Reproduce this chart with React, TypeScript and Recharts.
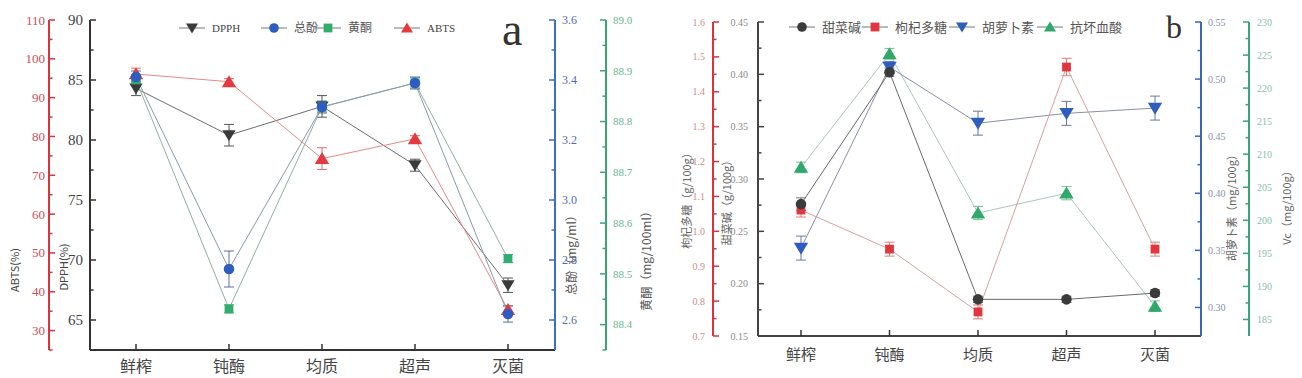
import React from 'react';
import { LineChart, Line, XAxis, YAxis, ErrorBar } from 'recharts';

const categories = ['鲜榨', '钝酶', '均质', '超声', '灭菌'];

// panel a
const seriesA = ['DPPH', '总酚', '黄酮', 'ABTS'];
const dpph = [84.3, 80.4, 82.8, 77.9, 67.9];
const dpphErr = [0.6, 0.9, 0.9, 0.5, 0.6];
const phenol = [3.41, 2.77, 3.31, 3.39, 2.62];
const phenolErr = [0.02, 0.06, 0.02, 0.02, 0.027];
const flavone = [88.882, 88.431, 88.829, 88.876, 88.53];
const flavoneErr = [0.01, 0.008, 0.01, 0.01, 0.008];
const abts = [96.1, 94.1, 74.3, 79.4, 35.4];
const abtsErr = [1.5, 0.8, 2.8, 0.8, 1.0];

const abtsTicks = [25, 30, 35, 40, 45, 50, 55, 60, 65, 70, 75, 80, 85, 90, 95, 100, 105, 110];
const abtsLabels = [30, 40, 50, 60, 70, 80, 90, 100, 110];
const dpphTicks = [62.5, 65, 67.5, 70, 72.5, 75, 77.5, 80, 82.5, 85, 87.5, 90];
const dpphLabels = [65, 70, 75, 80, 85, 90];
const phenolTicks = [2.6, 2.7, 2.8, 2.9, 3.0, 3.1, 3.2, 3.3, 3.4, 3.5, 3.6];
const phenolLabels = [2.6, 2.8, 3.0, 3.2, 3.4, 3.6];
const flavoneTicks = [88.35, 88.4, 88.45, 88.5, 88.55, 88.6, 88.65, 88.7, 88.75, 88.8, 88.85, 88.9, 88.95, 89.0];
const flavoneLabels = [88.4, 88.5, 88.6, 88.7, 88.8, 88.9, 89.0];

// panel b
const seriesB = ['甜菜碱', '枸杞多糖', '胡萝卜素', '抗坏血酸'];
const betaine = [0.276, 0.402, 0.185, 0.185, 0.191];
const betaineErr = [0.006, 0.004, 0.003, 0.003, 0.003];
const lycium = [1.061, 0.949, 0.769, 1.471, 0.949];
const lyciumErr = [0.02, 0.02, 0.02, 0.025, 0.02];
const carotene = [0.352, 0.5105, 0.4614, 0.47, 0.4746];
const caroteneErr = [0.0105, 0.005, 0.0105, 0.0105, 0.0105];
const vc = [208.0, 225.2, 201.1, 204.1, 187.0];
const vcErr = [0.8, 0.8, 1.0, 1.0, 0.8];

const betaineTicks = [0.15, 0.175, 0.2, 0.225, 0.25, 0.275, 0.3, 0.325, 0.35, 0.375, 0.4, 0.425, 0.45];
const betaineLabels = [0.15, 0.2, 0.25, 0.3, 0.35, 0.4, 0.45];
const lyciumTicks = [0.7, 0.75, 0.8, 0.85, 0.9, 0.95, 1.0, 1.05, 1.1, 1.15, 1.2, 1.25, 1.3, 1.35, 1.4, 1.45, 1.5, 1.55, 1.6];
const lyciumLabels = [0.7, 0.8, 0.9, 1.0, 1.1, 1.2, 1.3, 1.4, 1.5, 1.6];
const caroteneTicks = [0.3, 0.325, 0.35, 0.375, 0.4, 0.425, 0.45, 0.475, 0.5, 0.525, 0.55];
const caroteneLabels = [0.3, 0.35, 0.4, 0.45, 0.5, 0.55];
const vcTicks = [185, 187.5, 190, 192.5, 195, 197.5, 200, 202.5, 205, 207.5, 210, 212.5, 215, 217.5, 220, 222.5, 225, 227.5, 230];
const vcLabels = [185, 190, 195, 200, 205, 210, 215, 220, 225, 230];

const dataA = categories.map((cat, i) => ({
  cat,
  dpph: dpph[i], dpphErr: dpphErr[i],
  phenol: phenol[i], phenolErr: phenolErr[i],
  flavone: flavone[i], flavoneErr: flavoneErr[i],
  abts: abts[i], abtsErr: abtsErr[i],
}));

const dataB = categories.map((cat, i) => ({
  cat,
  betaine: betaine[i], betaineErr: betaineErr[i],
  lycium: lycium[i], lyciumErr: lyciumErr[i],
  carotene: carotene[i], caroteneErr: caroteneErr[i],
  vc: vc[i], vcErr: vcErr[i],
}));

const SERIF = '"Liberation Serif", "DejaVu Serif", serif';
const CJK = '"Noto Sans CJK SC", "Noto Sans", sans-serif';

type Shape = 'circle' | 'square' | 'up' | 'down';

function Marker({ shape, x, y, fill, s }: { shape: Shape; x: number; y: number; fill: string; s: number }) {
  if (shape === 'circle') return <circle cx={x} cy={y} r={s * 0.48} fill={fill} />;
  if (shape === 'square') return <rect x={x - s * 0.44} y={y - s * 0.44} width={s * 0.88} height={s * 0.88} fill={fill} />;
  if (shape === 'up')
    return <path d={`M${x},${y - s * 0.55}L${x + s * 0.6},${y + s * 0.45}L${x - s * 0.6},${y + s * 0.45}Z`} fill={fill} />;
  return <path d={`M${x},${y + s * 0.55}L${x + s * 0.6},${y - s * 0.45}L${x - s * 0.6},${y - s * 0.45}Z`} fill={fill} />;
}

const dot = (shape: Shape, fill: string, s: number) => (p: any) => {
  if (p.cx == null || p.cy == null) return <g key={`d-${p.index}`} />;
  return (
    <g key={`d-${p.index}`}>
      <Marker shape={shape} x={p.cx} y={p.cy} fill={fill} s={s} />
    </g>
  );
};

// ticks point into the plot, labels sit outside
const yTick =
  (side: 'left' | 'right', labels: number[], digits: number, color: string, line: string, size: number, gap: number) =>
  (p: any) => {
    const v = p.payload.value;
    const major = labels.some((l) => Math.abs(l - v) < 1e-9);
    const dir = side === 'left' ? 1 : -1;
    const len = major ? 6 : 3.5;
    return (
      <g>
        <line x1={p.x} x2={p.x + dir * len} y1={p.y} y2={p.y} stroke={line} strokeWidth={1.5} />
        {major && (
          <text
            x={p.x - dir * gap}
            y={p.y}
            dy="0.35em"
            textAnchor={side === 'left' ? 'end' : 'start'}
            fill={color}
            fontSize={size}
            fontFamily={SERIF}
          >
            {v.toFixed(digits)}
          </text>
        )}
      </g>
    );
  };

const xTick = (gap: number, size: number) => (p: any) => (
  <g>
    <line x1={p.x} x2={p.x} y1={p.y} y2={p.y - 6} stroke="#333" strokeWidth={1.5} />
    <text x={p.x} y={p.y + gap} dy="0.35em" textAnchor="middle" fill="#444" fontSize={size} fontFamily={CJK}>
      {p.payload.value}
    </text>
  </g>
);

function LegendItem({ x, y, shape, color, text, font, size, textColor }: any) {
  return (
    <g>
      <line x1={x - 13} x2={x + 13} y1={y} y2={y} stroke="#777" strokeWidth={1} />
      <Marker shape={shape} x={x} y={y} fill={color} s={10} />
      <text x={x + 20} y={y} dy="0.35em" fontSize={size} fontFamily={font} fill={textColor}>
        {text}
      </text>
    </g>
  );
}

function VTitle({ x, y, text, size, color }: any) {
  return (
    <text
      x={x}
      y={y}
      transform={`rotate(-90 ${x} ${y})`}
      textAnchor="middle"
      dy="0.35em"
      fontSize={size}
      fontFamily={CJK}
      fill={color}
    >
      {text}
    </text>
  );
}

// axis ids sort alphabetically: y1* sits next to the plot, y2* outside it
export default function App() {
  const axisLine = (c: string) => ({ stroke: c, strokeWidth: 2 });
  return (
    <div style={{ position: 'absolute', left: 0, top: 0, width: 1302, height: 378, background: '#fff' }}>
      <div style={{ position: 'absolute', left: 0, top: 0 }}>
        <LineChart width={660} height={378} data={dataA} margin={{ top: 20, right: 0, bottom: 0, left: 0 }}>
          <XAxis
            dataKey="cat"
            height={28}
            padding={{ left: 46, right: 47 }}
            axisLine={axisLine('#333')}
            tickLine={false}
            tickSize={0}
            tickMargin={0}
            interval={0}
            tick={xTick(16, 16)}
          />
          <YAxis yAxisId="y1dpph" orientation="left" width={41} domain={[62.5, 90]} ticks={dpphTicks} interval={0}
            axisLine={axisLine('#333')} tickLine={false} tickSize={0} tickMargin={0}
            tick={yTick('left', dpphLabels, 0, '#444', '#333', 15, 7)} />
          <YAxis yAxisId="y2abts" orientation="left" width={49} domain={[25, 110]} ticks={abtsTicks} interval={0}
            axisLine={axisLine('#d9343c')} tickLine={false} tickSize={0} tickMargin={0}
            tick={yTick('left', abtsLabels, 0, '#c8505a', '#d9343c', 13, 4)} />
          <YAxis yAxisId="y1phenol" orientation="right" width={51} domain={[2.5, 3.6]} ticks={phenolTicks} interval={0}
            axisLine={axisLine('#3b6fc0')} tickLine={false} tickSize={0} tickMargin={0}
            tick={yTick('right', phenolLabels, 1, '#4f6db0', '#3b6fc0', 12, 7)} />
          <YAxis yAxisId="y2flavone" orientation="right" width={54} domain={[88.35, 89.0]} ticks={flavoneTicks} interval={0}
            axisLine={axisLine('#3aa476')} tickLine={false} tickSize={0} tickMargin={0}
            tick={yTick('right', flavoneLabels, 1, '#6db393', '#3aa476', 11, 7)} />
          <Line yAxisId="y1dpph" dataKey="dpph" stroke="#6e6e6e" strokeWidth={1} isAnimationActive={false}
            dot={dot('down', '#3a3a3a', 11)} activeDot={false}>
            <ErrorBar dataKey="dpphErr" width={5} stroke="#555" strokeWidth={1} direction="y" />
          </Line>
          <Line yAxisId="y2flavone" dataKey="flavone" stroke="#8fb0a2" strokeWidth={1} isAnimationActive={false}
            dot={dot('square', '#2fae6e', 10)} activeDot={false}>
            <ErrorBar dataKey="flavoneErr" width={5} stroke="#4aa57a" strokeWidth={1} direction="y" />
          </Line>
          <Line yAxisId="y2abts" dataKey="abts" stroke="#e58a8a" strokeWidth={1} isAnimationActive={false}
            dot={dot('up', '#e43a3f', 12)} activeDot={false}>
            <ErrorBar dataKey="abtsErr" width={5} stroke="#e06a6a" strokeWidth={1} direction="y" />
          </Line>
          <Line yAxisId="y1phenol" dataKey="phenol" stroke="#8a9aa8" strokeWidth={1} isAnimationActive={false}
            dot={dot('circle', '#2c5dbf', 11)} activeDot={false}>
            <ErrorBar dataKey="phenolErr" width={5} stroke="#5a6f9a" strokeWidth={1} direction="y" />
          </Line>
        </LineChart>
      </div>

      <div style={{ position: 'absolute', left: 660, top: 0 }}>
        <LineChart width={642} height={378} data={dataB} margin={{ top: 22, right: 0, bottom: 12, left: 0 }}>
          <XAxis
            dataKey="cat"
            height={30}
            padding={{ left: 43, right: 46 }}
            axisLine={axisLine('#444')}
            tickLine={false}
            tickSize={0}
            tickMargin={0}
            interval={0}
            tick={xTick(19, 15)}
          />
          <YAxis yAxisId="y1betaine" orientation="left" width={45} domain={[0.15, 0.45]} ticks={betaineTicks} interval={0}
            axisLine={axisLine('#444')} tickLine={false} tickSize={0} tickMargin={0}
            tick={yTick('left', betaineLabels, 2, '#8a8a8a', '#444', 10, 10)} />
          <YAxis yAxisId="y2lycium" orientation="left" width={53} domain={[0.7, 1.6]} ticks={lyciumTicks} interval={0}
            axisLine={axisLine('#d9343c')} tickLine={false} tickSize={0} tickMargin={0}
            tick={yTick('left', lyciumLabels, 1, '#d58a90', '#d9343c', 10, 8)} />
          <YAxis yAxisId="y1carotene" orientation="right" width={48} domain={[0.275, 0.55]} ticks={caroteneTicks} interval={0}
            axisLine={axisLine('#3a66b8')} tickLine={false} tickSize={0} tickMargin={0}
            tick={yTick('right', caroteneLabels, 2, '#8892b0', '#3a66b8', 10, 7)} />
          <YAxis yAxisId="y2vc" orientation="right" width={53} domain={[182.5, 230]} ticks={vcTicks} interval={0}
            axisLine={axisLine('#3aa476')} tickLine={false} tickSize={0} tickMargin={0}
            tick={yTick('right', vcLabels, 0, '#8cc0a8', '#3aa476', 10, 8)} />
          <Line yAxisId="y2vc" dataKey="vc" stroke="#b0c4ba" strokeWidth={1} isAnimationActive={false}
            dot={dot('up', '#2fa86a', 12)} activeDot={false}>
            <ErrorBar dataKey="vcErr" width={5} stroke="#7cbf9c" strokeWidth={1} direction="y" />
          </Line>
          <Line yAxisId="y1carotene" dataKey="carotene" stroke="#8890a4" strokeWidth={1} isAnimationActive={false}
            dot={dot('down', '#2c5dbf', 12)} activeDot={false}>
            <ErrorBar dataKey="caroteneErr" width={5} stroke="#6a7a9a" strokeWidth={1} direction="y" />
          </Line>
          <Line yAxisId="y2lycium" dataKey="lycium" stroke="#d8a0a0" strokeWidth={1} isAnimationActive={false}
            dot={dot('square', '#e2363f', 10)} activeDot={false}>
            <ErrorBar dataKey="lyciumErr" width={5} stroke="#e07a7a" strokeWidth={1} direction="y" />
          </Line>
          <Line yAxisId="y1betaine" dataKey="betaine" stroke="#6a6a6a" strokeWidth={1} isAnimationActive={false}
            dot={dot('circle', '#3b3b3b', 11)} activeDot={false}>
            <ErrorBar dataKey="betaineErr" width={5} stroke="#777" strokeWidth={1} direction="y" />
          </Line>
        </LineChart>
      </div>

      <svg width={1302} height={378} style={{ position: 'absolute', left: 0, top: 0, pointerEvents: 'none' }}>
        <LegendItem x={192} y={28} shape="down" color="#3a3a3a" text={seriesA[0]} font={SERIF} size={11} textColor="#444" />
        <LegendItem x={274} y={28} shape="circle" color="#2c5dbf" text={seriesA[1]} font={CJK} size={12} textColor="#555" />
        <LegendItem x={328} y={28} shape="square" color="#2fae6e" text={seriesA[2]} font={CJK} size={12} textColor="#555" />
        <LegendItem x={407} y={28} shape="up" color="#e43a3f" text={seriesA[3]} font={SERIF} size={11} textColor="#444" />
        <text x={502} y={45} fontSize={46} fontFamily={SERIF} fill="#333">a</text>

        <LegendItem x={802} y={27} shape="circle" color="#3b3b3b" text={seriesB[0]} font={CJK} size={13} textColor="#555" />
        <LegendItem x={875} y={27} shape="square" color="#e2363f" text={seriesB[1]} font={CJK} size={13} textColor="#555" />
        <LegendItem x={962} y={27} shape="down" color="#2c5dbf" text={seriesB[2]} font={CJK} size={13} textColor="#555" />
        <LegendItem x={1050} y={27} shape="up" color="#2fa86a" text={seriesB[3]} font={CJK} size={13} textColor="#555" />
        <text x={1166} y={38} fontSize={32} fontFamily={SERIF} fill="#333">b</text>

        <VTitle x={15} y={270} text="ABTS(%)" size={11} color="#444" />
        <VTitle x={64} y={267} text="DPPH(%)" size={11} color="#444" />
        <VTitle x={572} y={252} text="总酚（mg/ml）" size={12} color="#555" />
        <VTitle x={647} y={258} text="黄酮（mg/100ml）" size={12} color="#555" />

        <VTitle x={687} y={198} text="枸杞多糖（g/100g）" size={11} color="#666" />
        <VTitle x={727} y={200} text="甜菜碱（g/100g）" size={11} color="#666" />
        <VTitle x={1232} y={205} text="胡萝卜素（mg/100g）" size={11} color="#666" />
        <VTitle x={1287} y={205} text="Vc（mg/100g）" size={11} color="#666" />
      </svg>
    </div>
  );
}
